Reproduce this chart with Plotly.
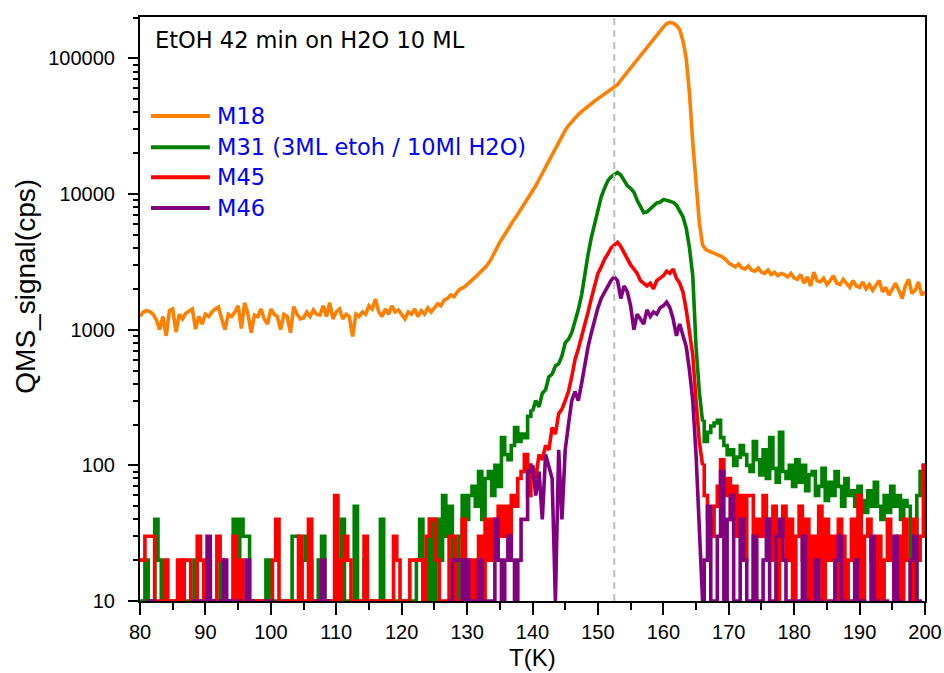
import plotly.graph_objects as go

# Temperature grid (K), 0.5 K sampling
T = [80 + 0.5 * i for i in range(241)]

# M18 (cps)
m18 = [
    1250, 1350, 1380, 1360, 1300, 1180, 1000, 1250, 900, 1380, 1420, 960, 1300, 1200, 1320, 1380, 1420, 1010, 1250, 1100,
    1300, 1250, 1350, 1420, 1470, 1200, 1000, 1300, 1250, 1350, 1500, 1020, 1580, 1300, 950, 1280, 1250, 1420, 1200, 1100,
    1420, 1300, 1250, 1000, 1300, 1250, 950, 1480, 1300, 1200, 1220, 1350, 1250, 1400, 1300, 1280, 1500, 1250, 1580, 1200,
    1350, 1420, 1200, 1300, 1250, 890, 1300, 1250, 1350, 1300, 1500, 1420, 1680, 1350, 1250, 1420, 1300, 1500, 1350, 1400,
    1300, 1200, 1350, 1300, 1420, 1250, 1380, 1300, 1450, 1350, 1450, 1550, 1500, 1650, 1700, 1800, 1750, 1900, 2000, 2050,
    2150, 2250, 2400, 2500, 2650, 2800, 2960, 3200, 3600, 4000, 4400, 4800, 5300, 5800, 6300, 6800, 7400, 8000, 8700, 9500,
    10400, 11500, 12800, 14200, 15800, 17600, 19500, 21800, 24500, 27300, 29500, 32000, 34300, 36500, 38500, 40500, 42500, 44500, 46500, 48500,
    50500, 52500, 54500, 56500, 58500, 61000, 64000, 69000, 74000, 79000, 84000, 90000, 97000, 104000, 111000, 119000, 128000, 140000, 150000, 160000,
    170000, 180000, 184000, 182000, 175000, 163000, 135000, 100000, 55000, 24000, 11000, 6200, 4200, 3900, 3800, 3700, 3600, 3500, 3450, 3300,
    3100, 3000, 2900, 3050, 2850, 2800, 2950, 2750, 2700, 2850, 2650, 2600, 2750, 2550, 2650, 2500, 2600, 2550, 2450, 2600,
    2400, 2350, 2550, 2200, 2450, 2100, 2650, 2300, 2250, 2400, 2150, 2300, 2500, 2200, 2150, 2350, 2200, 2050, 2300, 2100,
    2050, 2250, 2000, 2150, 1950, 2100, 2300, 1900, 2050, 1800, 2000, 2200, 1950, 1700, 2100, 2350, 1850, 1950, 2250, 1800,
    1900,
]

# M31 (cps); 1 = below the axis floor
m31 = [
    10, 10, 20, 10, 10, 40, 20, 10, 1, 10, 10, 10, 10, 20, 10, 1, 10, 20, 10, 10,
    10, 1, 10, 10, 10, 20, 10, 1, 10, 40, 20, 40, 30, 30, 10, 10, 1, 10, 10, 20,
    10, 10, 1, 10, 10, 10, 10, 30, 30, 10, 20, 30, 20, 10, 1, 20, 30, 10, 10, 10,
    10, 10, 40, 10, 10, 1, 50, 10, 10, 20, 10, 10, 1, 10, 40, 10, 10, 10, 1, 10,
    10, 10, 10, 1, 10, 20, 40, 10, 10, 40, 10, 40, 20, 60, 30, 50, 20, 10, 30, 60,
    40, 60, 70, 50, 90, 40, 80, 90, 60, 100, 70, 160, 120, 110, 140, 190, 150, 170, 160, 230,
    250, 300, 270, 340, 360, 450, 470, 540, 560, 640, 800, 850, 950, 1150, 1400, 1800, 2600, 3600, 4800, 6000,
    7600, 9500, 11000, 12500, 13400, 13800, 14400, 13800, 12500, 11500, 11000, 10300, 9000, 8000, 7300, 7400, 7800, 8200, 8600, 8700,
    9100, 9000, 8800, 8700, 8300, 7600, 6800, 5600, 4000, 2500, 750, 350, 210, 150, 175, 195, 205, 215, 160, 140,
    120, 130, 100, 115, 140, 120, 100, 90, 150, 110, 85, 130, 80, 160, 95, 75, 175, 90, 80, 100,
    70, 110, 75, 100, 65, 85, 90, 60, 70, 95, 55, 75, 60, 90, 70, 50, 80, 60, 65, 50,
    70, 55, 45, 65, 50, 75, 50, 40, 60, 45, 70, 50, 60, 40, 55, 50, 20, 10, 60, 90,
    100,
]

# M45 (cps)
m45 = [
    20, 20, 30, 30, 30, 10, 10, 10, 20, 10, 1, 10, 20, 10, 20, 20, 10, 10, 30, 20,
    10, 20, 10, 10, 30, 20, 10, 1, 10, 30, 10, 20, 10, 10, 1, 10, 10, 10, 10, 10,
    10, 20, 40, 10, 10, 10, 1, 10, 10, 30, 10, 10, 40, 10, 10, 1, 10, 10, 10, 10,
    60, 10, 20, 30, 20, 10, 10, 1, 10, 30, 10, 10, 10, 10, 1, 10, 10, 10, 30, 20,
    10, 10, 10, 20, 20, 20, 20, 10, 30, 40, 40, 20, 10, 10, 1, 30, 30, 10, 10, 40,
    10, 20, 10, 20, 30, 10, 40, 20, 40, 40, 50, 30, 50, 20, 60, 50, 80, 90, 120, 60,
    100, 80, 120, 110, 140, 130, 190, 170, 240, 260, 300, 350, 450, 600, 720, 880, 1050, 1350, 1700, 2100,
    2600, 2900, 3300, 3600, 4000, 4200, 4400, 4100, 3700, 3400, 3000, 2800, 2600, 2300, 2200, 2100, 2200, 2000, 2300, 2400,
    2500, 2700, 2600, 2800, 2400, 2200, 1900, 1400, 900, 650, 300, 150, 100, 60, 40, 30, 50, 70, 110, 60,
    80, 40, 70, 30, 60, 20, 60, 60, 1, 40, 30, 60, 40, 20, 50, 1, 30, 50, 20, 40,
    10, 30, 50, 20, 40, 1, 30, 20, 50, 10, 40, 20, 30, 1, 40, 30, 10, 20, 40, 20,
    60, 1, 30, 40, 20, 10, 30, 1, 20, 40, 20, 10, 30, 1, 40, 20, 10, 40, 20, 30,
    100,
]

# M46 (cps)
m46 = [
    1, 1, 1, 10, 10, 1, 1, 1, 1, 1, 1, 1, 1, 1, 1, 1, 1, 10, 10, 10,
    10, 30, 10, 1, 1, 10, 20, 10, 1, 10, 10, 1, 1, 20, 10, 1, 1, 1, 1, 10,
    10, 1, 1, 1, 1, 1, 1, 1, 1, 1, 1, 1, 1, 1, 1, 10, 20, 10, 1, 1,
    1, 1, 1, 1, 1, 1, 1, 1, 1, 1, 1, 1, 1, 1, 1, 1, 1, 1, 1, 1,
    1, 1, 1, 1, 1, 1, 1, 1, 1, 1, 1, 1, 1, 1, 1, 10, 20, 20, 20, 10,
    20, 10, 1, 10, 20, 10, 10, 10, 10, 40, 20, 10, 20, 30, 20, 10, 20, 40, 40, 90,
    100, 60, 90, 40, 120, 100, 80, 10, 130, 40, 130, 200, 300, 350, 300, 400, 550, 750, 950, 1200,
    1450, 1700, 1900, 2100, 2300, 2450, 2300, 1700, 2100, 1900, 1500, 1000, 1300, 1200, 1100, 1400, 1250, 1350, 1300, 1450,
    1500, 1600, 1450, 1200, 900, 1100, 900, 750, 500, 300, 120, 40, 10, 20, 50, 10, 1, 30, 90, 10,
    40, 60, 10, 1, 40, 20, 1, 10, 30, 10, 1, 20, 40, 10, 1, 30, 40, 20, 1, 10,
    1, 10, 1, 30, 10, 1, 1, 20, 10, 1, 1, 10, 1, 20, 30, 10, 1, 1, 10, 20,
    1, 10, 1, 1, 30, 10, 1, 1, 10, 1, 1, 30, 10, 1, 1, 1, 20, 30, 10, 1,
    1,
]

names = ["M18", "M31 (3ML etoh / 10Ml H2O)", "M45", "M46"]
colors = ["#FF8000", "#008000", "#FF0000", "#800080"]
series = [m18, m31, m45, m46]

x_ticks = [80, 90, 100, 110, 120, 130, 140, 150, 160, 170, 180, 190, 200]
y_ticks = [10, 100, 1000, 10000, 100000]
y_ticktext = ["10", "100", "1000", "10000", "100000"]
marker_T = 152.5
title_text = "EtOH 42 min on H2O 10 ML"

# count-noise regions drawn as steps, desorption peak drawn as a line
peak_start, peak_end = 120, 172  # indices into T (140 K .. 166 K)

fig = go.Figure()
for k, (name, ys, col) in enumerate(zip(names, series, colors)):
    if k == 0:
        segs = [(0, len(T), "linear")]
    else:
        segs = [(0, peak_start + 1, "hvh"), (peak_start, peak_end + 1, "linear"), (peak_end, len(T), "hvh")]
    for a, b, shp in segs:
        fig.add_trace(go.Scatter(x=T[a:b], y=ys[a:b], mode="lines", name=name,
                                 line=dict(color=col, width=3.6, shape=shp), showlegend=False))

y_minor = [m * 10 ** e for e in range(1, 6) for m in range(2, 10) if m * 10 ** e <= 200000]

fig.add_shape(type="line", xref="x", yref="paper", x0=marker_T, x1=marker_T, y0=0, y1=1,
              line=dict(color="#BEBEBE", width=2, dash="7px,5px"), layer="above")

# manual legend
leg_y = [0.8305, 0.777, 0.7256, 0.6729]
for name, col, yy in zip(names, colors, leg_y):
    fig.add_shape(type="line", xref="paper", yref="paper", x0=0.014, x1=0.089, y0=yy, y1=yy,
                  line=dict(color=col, width=4))
    fig.add_annotation(xref="paper", yref="paper", x=0.0955, y=yy, text=name, showarrow=False,
                       xanchor="left", yanchor="middle",
                       font=dict(family="DejaVu Sans", size=22.5, color="#0000FF"))

fig.add_annotation(xref="paper", yref="paper", x=0.0166, y=0.9606, text=title_text, showarrow=False,
                   xanchor="left", yanchor="middle",
                   font=dict(family="DejaVu Sans", size=22.5, color="black"))

# axis titles
fig.add_annotation(xref="paper", yref="paper", x=-0.1459, y=0.539, text="QMS_signal(cps)",
                   textangle=-90, showarrow=False, xanchor="center", yanchor="middle",
                   font=dict(family="Liberation Sans, Arial", size=28, color="black"))
fig.add_annotation(xref="paper", yref="paper", x=0.5, y=-0.0976, text="T(K)",
                   showarrow=False, xanchor="center", yanchor="middle",
                   font=dict(family="Liberation Sans, Arial", size=24, color="black"))

axis_font = dict(family="Liberation Sans, Arial", size=20, color="black")
fig.update_layout(
    width=944, height=673,
    margin=dict(l=140, r=19, t=17, b=72),
    paper_bgcolor="white", plot_bgcolor="white",
    xaxis=dict(range=[80, 200], tickvals=x_ticks, ticks="outside", ticklen=12, tickwidth=2,
               tickcolor="black", showline=True, linewidth=2, linecolor="black", mirror=True,
               showgrid=False, zeroline=False, tickfont=axis_font, automargin=False,
               minor=dict(dtick=5, tick0=80, ticks="outside", ticklen=7, tickwidth=2, tickcolor="black")),
    yaxis=dict(type="log", range=[1, 5.305], tickvals=y_ticks, ticktext=y_ticktext, ticks="outside",
               ticklen=10, tickwidth=2, tickcolor="black", showline=True, linewidth=2, linecolor="black",
               mirror=True, showgrid=False, zeroline=False, tickfont=axis_font, automargin=False,
               ticklabelstandoff=9,
               minor=dict(tickvals=y_minor, ticks="outside", ticklen=5, tickwidth=2, tickcolor="black")),
)

fig.write_html("out.html", config={"displayModeBar": False},
               post_script="document.body.style.margin='0';document.body.style.overflow='hidden';")
